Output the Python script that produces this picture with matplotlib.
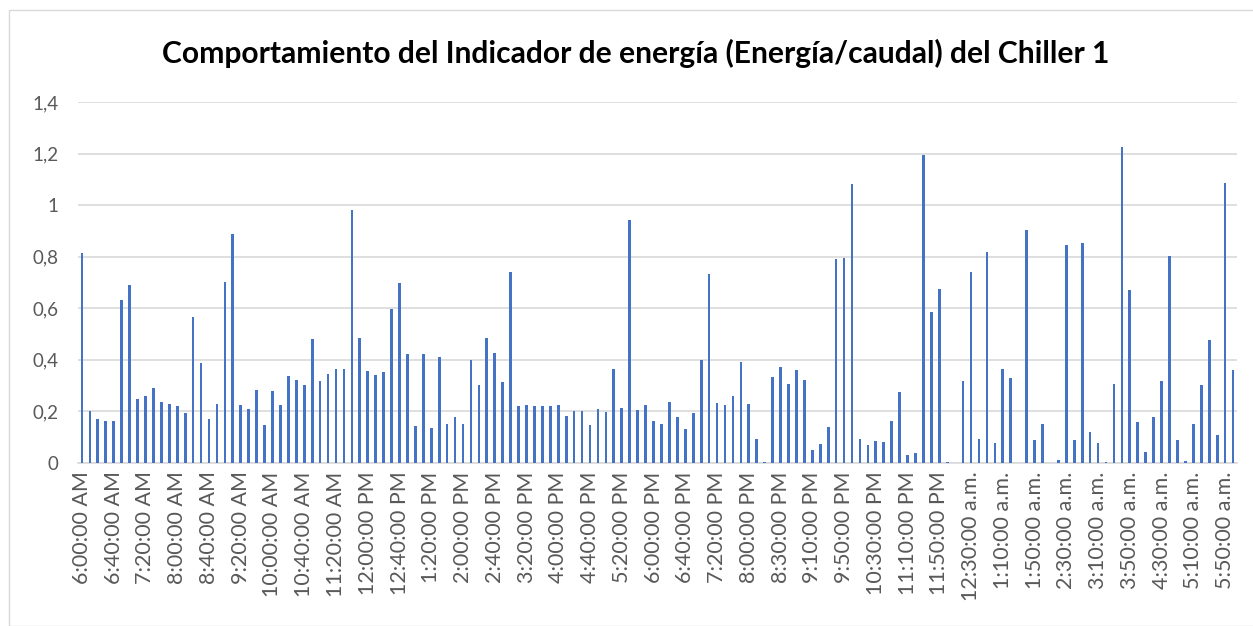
import numpy as np
import matplotlib
matplotlib.use("Agg")
import matplotlib.pyplot as plt
from matplotlib.patches import Rectangle

# indicator values (energia/caudal), one reading every ~10 min, 146 readings
valores = [
    0.814, 0.203, 0.170, 0.162, 0.163, 0.631, 0.690, 0.250, 0.261, 0.290,
    0.235, 0.228, 0.222, 0.192, 0.565, 0.386, 0.172, 0.228, 0.701, 0.889,
    0.224, 0.210, 0.285, 0.146, 0.279, 0.226, 0.336, 0.321, 0.302, 0.482,
    0.318, 0.347, 0.364, 0.363, 0.981, 0.485, 0.356, 0.340, 0.353, 0.599,
    0.697, 0.423, 0.143, 0.421, 0.134, 0.410, 0.153, 0.178, 0.152, 0.398,
    0.301, 0.483, 0.425, 0.316, 0.740, 0.222, 0.224, 0.222, 0.222, 0.220,
    0.223, 0.181, 0.203, 0.200, 0.148, 0.211, 0.196, 0.363, 0.215, 0.942,
    0.207, 0.223, 0.163, 0.152, 0.237, 0.178, 0.130, 0.194, 0.398, 0.732,
    0.232, 0.223, 0.258, 0.393, 0.227, 0.095, 0.005, 0.334, 0.371, 0.308,
    0.362, 0.321, 0.051, 0.073, 0.140, 0.792, 0.795, 1.082, 0.095, 0.069,
    0.084, 0.082, 0.161, 0.275, 0.032, 0.039, 1.195, 0.585, 0.675, 0.005,
    0.001, 0.319, 0.741, 0.092, 0.820, 0.076, 0.363, 0.328, 0.0, 0.905,
    0.088, 0.153, 0.001, 0.013, 0.844, 0.088, 0.852, 0.119, 0.079, 0.005,
    0.306, 1.224, 0.669, 0.159, 0.041, 0.178, 0.318, 0.804, 0.091, 0.006,
    0.153, 0.303, 0.476, 0.109, 1.085, 0.359,
]

# category labels shown on the axis (every 4th reading)
etiquetas = [
    "6:00:00 AM", "6:40:00 AM", "7:20:00 AM", "8:00:00 AM", "8:40:00 AM",
    "9:20:00 AM", "10:00:00 AM", "10:40:00 AM", "11:20:00 AM", "12:00:00 PM",
    "12:40:00 PM", "1:20:00 PM", "2:00:00 PM", "2:40:00 PM", "3:20:00 PM",
    "4:00:00 PM", "4:40:00 PM", "5:20:00 PM", "6:00:00 PM", "6:40:00 PM",
    "7:20:00 PM", "8:00:00 PM", "8:30:00 PM", "9:10:00 PM", "9:50:00 PM",
    "10:30:00 PM", "11:10:00 PM", "11:50:00 PM", "12:30:00 a.m.", "1:10:00 a.m.",
    "1:50:00 a.m.", "2:30:00 a.m.", "3:10:00 a.m.", "3:50:00 a.m.", "4:30:00 a.m.",
    "5:10:00 a.m.", "5:50:00 a.m.",
]
paso_etiqueta = 4

y_ticks = [0, 0.2, 0.4, 0.6, 0.8, 1.0, 1.2, 1.4]
y_labels = ["0", "0,2", "0,4", "0,6", "0,8", "1", "1,2", "1,4"]

titulo = "Comportamiento del Indicador de energía (Energía/caudal) del Chiller 1"

gris = "#595959"
azul = "#4472C4"

fig = plt.figure(figsize=(12.53, 6.26), dpi=100)
ax = fig.add_axes([78 / 1253, 1 - 463 / 626, (1237 - 78) / 1253, (463 - 102) / 626])

x = np.arange(len(valores))
ax.bar(x, valores, width=0.34, color=azul, zorder=3)

ax.set_xlim(-0.5, len(valores) - 0.5)
ax.set_ylim(0, 1.4)
ax.set_yticks(y_ticks)
ax.set_yticklabels(y_labels, fontsize=13.5, color=gris, fontfamily="Lato")
ax.yaxis.grid(True, color="#D9D9D9", linewidth=1.2)
ax.set_axisbelow(True)

pos = np.arange(0, len(valores), paso_etiqueta)[:len(etiquetas)]
ax.set_xticks(pos)
ax.set_xticklabels(etiquetas, rotation=90, fontsize=15.5, color=gris,
                   fontfamily="Lato", va="top", ha="center")

ax.tick_params(axis="both", length=0)
ax.tick_params(axis="y", pad=14)
ax.tick_params(axis="x", pad=6)
for s in ["top", "right", "left"]:
    ax.spines[s].set_visible(False)
ax.spines["bottom"].set_color("#D9D9D9")
ax.spines["bottom"].set_linewidth(1.2)

fig.text(0.507, 1 - 53 / 626, titulo, ha="center", va="center",
         fontsize=21.6, fontweight="bold", color="black", fontfamily="Lato")

# chart area border
fig.patches.append(Rectangle((9 / 1253, 0), 1.0, 1 - 10 / 626,
                             transform=fig.transFigure, fill=False,
                             edgecolor="#D9D9D9", linewidth=1))

fig.savefig("out.png", dpi=100)
